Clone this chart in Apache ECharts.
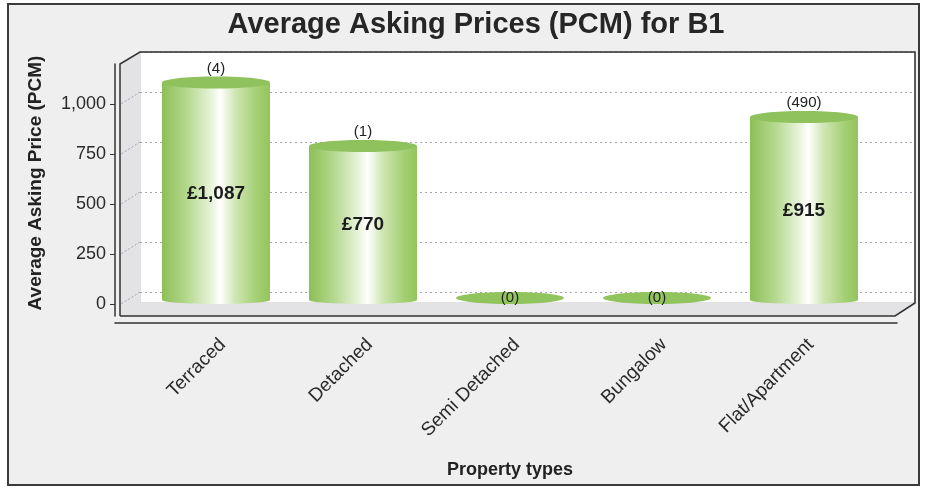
<!DOCTYPE html>
<html>
<head>
<meta charset="utf-8">
<script src="https://cdn.jsdelivr.net/npm/echarts@6/dist/echarts.min.js"></script>
<style>
  html, body { margin: 0; padding: 0; background: #fff; }
  #chart { width: 925px; height: 491px; }
</style>
</head>
<body>
<div id="chart"></div>
<script>
  const categories = ['Terraced', 'Detached', 'Semi Detached', 'Bungalow', 'Flat/Apartment'];
  const avgPrices = [1087, 770, 0, 0, 915];
  const listingCounts = [4, 1, 0, 0, 490];
  const yTicks = [0, 250, 500, 750, 1000];

  const FONT = '"Liberation Sans", Arial, sans-serif';
  const chart = echarts.init(document.getElementById('chart'));

  // cylinder body shading, green edges with a white highlight
  function bodyFill() {
    return new echarts.graphic.LinearGradient(0, 0, 1, 0, [
      {offset: 0, color: '#8dbf58'},
      {offset: 0.22, color: '#b2d78a'},
      {offset: 0.45, color: '#e6f2d8'},
      {offset: 0.54, color: '#ffffff'},
      {offset: 0.68, color: '#cfe6b3'},
      {offset: 0.88, color: '#a3cf72'},
      {offset: 1, color: '#93c55e'}
    ]);
  }

  function renderCylinder(params, api) {
    const i = api.value(0);
    const v = api.value(1);
    const n = api.value(2);
    const base = api.coord([i, 0]);
    const top = api.coord([i, v]);
    const w = api.size([1, 0])[0] * 0.735;
    const rx = w / 2;
    const cx = base[0];
    const children = [];

    if (v > 0) {
      children.push({
        type: 'rect',
        shape: {x: cx - rx, y: top[1], width: w, height: base[1] - top[1]},
        style: {fill: bodyFill()}
      });
      children.push({
        type: 'ellipse',
        shape: {cx: cx, cy: base[1], rx: rx, ry: 4},
        style: {fill: bodyFill()}
      });
      children.push({
        type: 'ellipse',
        shape: {cx: cx, cy: top[1], rx: rx, ry: 6},
        style: {fill: '#8fc25c'}
      });
      children.push({
        type: 'text',
        x: cx,
        y: (top[1] + base[1]) / 2 + 2,
        style: {
          text: '£' + v.toLocaleString('en-GB'),
          align: 'center',
          verticalAlign: 'middle',
          font: 'bold 19px ' + FONT,
          fill: '#1c1c1c'
        }
      });
      children.push({
        type: 'text',
        x: cx,
        y: top[1] - 14,
        style: {
          text: '(' + n + ')',
          align: 'center',
          verticalAlign: 'middle',
          font: '15px ' + FONT,
          fill: '#222'
        }
      });
    } else {
      children.push({
        type: 'ellipse',
        shape: {cx: cx, cy: base[1] - 2, rx: rx, ry: 6},
        style: {fill: '#92c45e'}
      });
      children.push({
        type: 'text',
        x: cx,
        y: base[1] - 2,
        style: {
          text: '(' + n + ')',
          align: 'center',
          verticalAlign: 'middle',
          font: '15px ' + FONT,
          fill: '#222'
        }
      });
    }
    return {type: 'group', children: children};
  }

  const frame = [
    {id: 'outer', type: 'rect', z: -20, shape: {x: 8, y: 4, width: 911, height: 481},
      style: {fill: '#efefef', stroke: '#3a3a3a', lineWidth: 2}},
    {id: 'back', type: 'rect', z: -10, shape: {x: 140, y: 52, width: 775, height: 251},
      style: {fill: '#ffffff', stroke: '#c4c4c4', lineWidth: 1}},
    {id: 'leftWall', type: 'polygon', z: -10, shape: {points: [[120, 64], [140, 52], [140, 303], [120, 316]]},
      style: {fill: '#e3e3e6'}},
    {id: 'floor', type: 'polygon', z: -10, shape: {points: [[120, 316], [140, 303], [915, 303], [895, 316]]},
      style: {fill: '#e3e3e6'}},
    {id: 'edges', type: 'polyline', z: 5,
      shape: {points: [[120, 316], [120, 64], [140, 52], [915, 52], [915, 303], [895, 316], [120, 316]]},
      style: {fill: null, stroke: '#333', lineWidth: 1.5}}
  ];

  const option = {
    backgroundColor: '#ffffff',
    animation: false,
    title: {
      text: 'Average Asking Prices (PCM) for B1',
      left: 471,
      textAlign: 'center',
      top: 5,
      textStyle: {fontFamily: FONT, fontSize: 29, fontWeight: 'bold', color: '#262626'}
    },
    graphic: {elements: frame},
    grid: [
      // front axes
      {left: 115, right: 28, top: 64, bottom: 175},
      // back wall
      {left: 140, right: 10, top: 52, bottom: 199},
      // cylinders
      {left: 142.5, right: 47.5, top: 60, bottom: 191}
    ],
    xAxis: [
      {gridIndex: 0, type: 'value', min: 0, max: 1, offset: 7,
        axisLine: {show: true, onZero: false, lineStyle: {color: '#333', width: 1.5}},
        axisTick: {show: false}, axisLabel: {show: false}, splitLine: {show: false}},
      {gridIndex: 1, type: 'value', min: 0, max: 1, show: false},
      {gridIndex: 2, type: 'category', data: categories, offset: 23,
        axisLine: {show: false},
        axisTick: {show: true, alignWithLabel: true, length: 4, lineStyle: {color: '#333'}},
        axisLabel: {rotate: 45, margin: 12, verticalAlign: 'top', fontFamily: FONT, fontSize: 19, color: '#2a2a2a'},
        name: 'Property types',
        nameLocation: 'middle',
        nameGap: 138,
        nameTextStyle: {fontFamily: FONT, fontSize: 18, fontWeight: 'bold', color: '#222'}}
    ],
    yAxis: [
      {gridIndex: 0, type: 'value', min: -60, max: 1200,
        axisLine: {show: true, onZero: false, lineStyle: {color: '#333', width: 1.5}},
        axisTick: {show: true, length: 5, customValues: yTicks, lineStyle: {color: '#333'}},
        axisLabel: {customValues: yTicks, margin: 9, fontFamily: FONT, fontSize: 18, color: '#2a2a2a',
          formatter: v => v.toLocaleString('en-GB')},
        splitLine: {show: false},
        name: 'Average Asking Price (PCM)',
        nameLocation: 'middle',
        nameGap: 70,
        nameTextStyle: {fontFamily: FONT, fontSize: 19, fontWeight: 'bold', color: '#222', padding: [0, 0, 0, 14]}},
      {gridIndex: 1, type: 'value', min: 0, max: 1200, interval: 250,
        axisLine: {show: false}, axisTick: {show: false}, axisLabel: {show: false},
        splitLine: {show: true, lineStyle: {color: '#a4a4ae', type: [2, 3], width: 1}}},
      {gridIndex: 2, type: 'value', min: 0, max: 1200, show: false}
    ],
    series: [{
      type: 'custom',
      xAxisIndex: 2,
      yAxisIndex: 2,
      clip: false,
      renderItem: renderCylinder,
      data: categories.map((c, i) => [i, avgPrices[i], listingCounts[i]])
    }]
  };

  chart.setOption(option);

  // dotted gridline continuation across the left wall
  const diag = yTicks.map((v, k) => {
    const y = chart.convertToPixel({yAxisIndex: 1}, v);
    return {id: 'diag' + k, type: 'line', z: -5,
      shape: {x1: 140, y1: y, x2: 121, y2: y + 12},
      style: {stroke: '#a4a4ae', lineDash: [2, 2], lineWidth: 1}};
  });
  chart.setOption({graphic: {elements: frame.concat(diag)}});
</script>
</body>
</html>
